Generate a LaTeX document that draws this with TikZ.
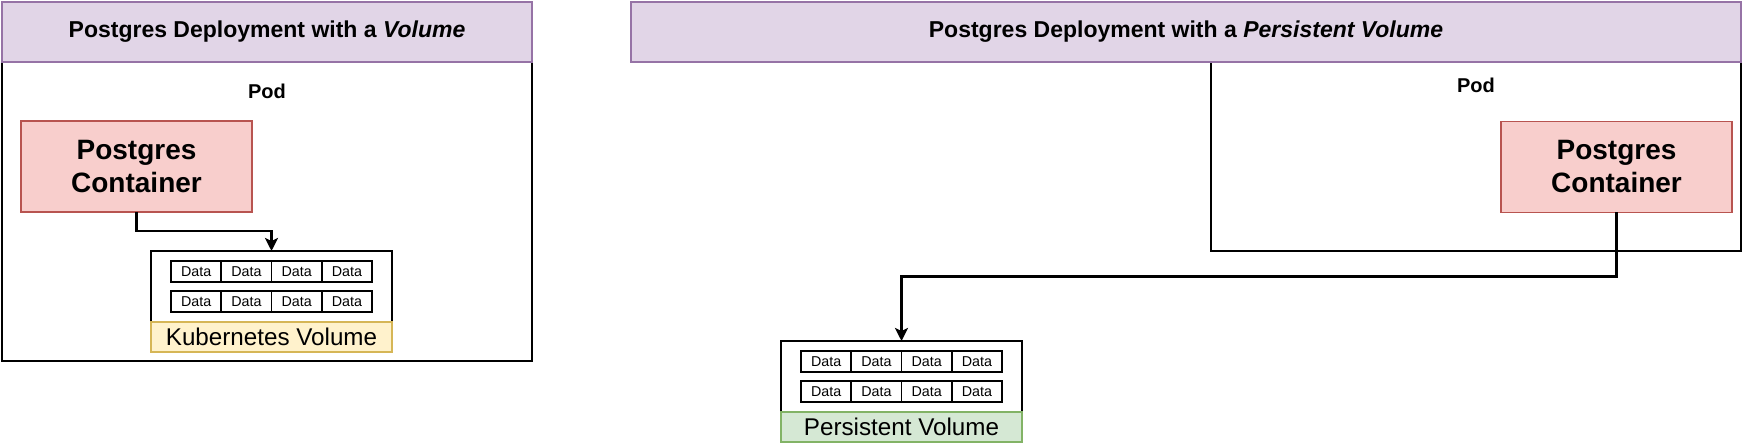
\documentclass[tikz,border=0pt]{standalone}
\usepackage{fontspec}
\setmainfont{Liberation Sans}
\definecolor{mypurple}{HTML}{E1D5E7}
\definecolor{mypurpleline}{HTML}{9673A6}
\definecolor{myred}{HTML}{F8CECC}
\definecolor{myredline}{HTML}{B85450}
\definecolor{myyellow}{HTML}{FFF2CC}
\definecolor{myyellowline}{HTML}{D6B656}
\definecolor{mygreen}{HTML}{D5E8D4}
\definecolor{mygreenline}{HTML}{82B366}
\usetikzlibrary{positioning,chains,arrows.meta}

\begin{document}
\begin{tikzpicture}[x=1pt,y=-1pt,
        every node/.style={inner sep=0pt,outer sep=0pt},
        hdnode/.style={draw=mypurpleline,fill=mypurple,line width=1.5pt,minimum height=60pt,
            font=\fontsize{23}{27}\selectfont\bfseries},
        podnode/.style={draw,line width=1.8pt,minimum width=530pt},
        podtext/.style={font=\fontsize{20}{24}\selectfont\bfseries},
        ctnode/.style={draw=myredline,fill=myred,line width=1.5pt,minimum width=231pt,minimum height=91pt,
            align=center,font=\fontsize{28}{33}\selectfont\bfseries},
        volnode/.style={draw,line width=1.8pt,fill=white,minimum width=241pt,minimum height=71pt},
        vlabel/.style={line width=1.5pt,minimum width=241pt,minimum height=30pt,
            font=\fontsize{24.2}{28}\selectfont},
        cell/.style={draw,line width=1.8pt,fill=white,minimum width=50.25pt,minimum height=21pt,
            font=\fontsize{14.3}{17}\selectfont},
        arr/.style={line width=2.6pt,-{Stealth[length=13pt,width=13pt,inset=3pt]}}
        ]
        \useasboundingbox (0,0) rectangle (1743,443);

        % the deployment with a volume
        \node[podnode,minimum height=299pt] (pod1) at (267,211.5) {};
        \node[hdnode,minimum width=530pt] (hd1) at (267,32) {Postgres Deployment with a \textit{Volume}};
        \node[podtext] (pt1) at (267,91) {Pod};
        \node[ctnode] (c1) at (136.5,166.5) {Postgres\\Container};
        \node[volnode] (v1) at (271.5,286.5) {};
        \node[vlabel,draw=myyellowline,fill=myyellow,below=0pt of v1] (vl1) {Kubernetes Volume};

        % the data of the volume
        \begin{scope}[start chain=going right,node distance=0pt]
        \node[cell,on chain,below right=10pt and 20pt of v1.north west] (a11) {Data};
        \foreach \i in {2,3,4} \node[cell,on chain] (a1\i) {Data};
        \end{scope}
        \begin{scope}[start chain=going right,node distance=0pt]
        \node[cell,on chain,below right=40pt and 20pt of v1.north west] (a21) {Data};
        \foreach \i in {2,3,4} \node[cell,on chain] (a2\i) {Data};
        \end{scope}

        % the deployment with a persistent volume
        \node[podnode,minimum height=189pt] (pod2) at (1476,156.5) {};
        \node[hdnode,minimum width=1110pt] (hd2) at (1186,32) {Postgres Deployment with a \textit{Persistent Volume}};
        \node[podtext] (pt2) at (1476,85) {Pod};
        \node[ctnode] (c2) at (1616.5,167) {Postgres\\Container};
        \node[volnode] (v2) at (901.5,376.5) {};
        \node[vlabel,draw=mygreenline,fill=mygreen,below=0pt of v2] (vl2) {Persistent Volume};

        % the data of the persistent volume
        \begin{scope}[start chain=going right,node distance=0pt]
        \node[cell,on chain,below right=10pt and 20pt of v2.north west] (b11) {Data};
        \foreach \i in {2,3,4} \node[cell,on chain] (b1\i) {Data};
        \end{scope}
        \begin{scope}[start chain=going right,node distance=0pt]
        \node[cell,on chain,below right=40pt and 20pt of v2.north west] (b21) {Data};
        \foreach \i in {2,3,4} \node[cell,on chain] (b2\i) {Data};
        \end{scope}

        % the connectors
        \draw[arr] (c1.south) -- ++(0,19) -| (v1.north);
        \draw[arr] (c2.south) -- ++(0,64) -| (v2.north);
\end{tikzpicture}
\end{document}
